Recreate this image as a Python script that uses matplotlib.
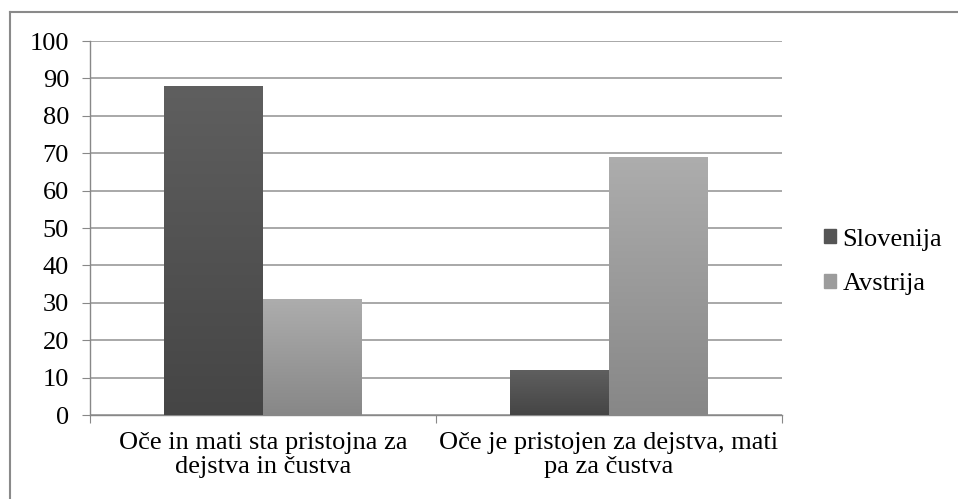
import numpy as np
import matplotlib
matplotlib.use("Agg")
import matplotlib.pyplot as plt
import matplotlib.patches as mpatches
from matplotlib.colors import LinearSegmentedColormap
from matplotlib.lines import Line2D

# ── DATA ──────────────────────────────────────────────────────────────────────
categories = ["Oče in mati sta pristojna za\ndejstva in čustva",
              "Oče je pristojen za dejstva, mati\npa za čustva"]
series_names = ["Slovenija", "Avstrija"]
slovenija = [88, 12]
avstrija = [31, 69]
y_ticks = list(range(0, 101, 10))

# ── STYLE ─────────────────────────────────────────────────────────────────────
plt.rcParams["font.family"] = ["Liberation Serif", "DejaVu Serif"]
FS = 19
GRID = "#9a9a9a"
DARK_TOP, DARK_BOT = "#5f5f5f", "#454545"
LIGHT_TOP, LIGHT_BOT = "#adadad", "#878787"

fig = plt.figure(figsize=(9.58, 4.99), dpi=100, facecolor="white")
ax = fig.add_axes([0.0939, 0.1683, 0.8163 - 0.0939, 0.9178 - 0.1683])

x = np.arange(len(categories))
w = 0.286

def gradient_bars(xpos, vals, top, bot, label):
    bars = ax.bar(xpos, vals, width=w, color=bot, edgecolor="none",
                  label=label, zorder=3)
    cmap = LinearSegmentedColormap.from_list("g", [bot, top])
    grad = np.linspace(0, 1, 256).reshape(-1, 1)
    for b in bars:
        x0, y0 = b.get_x(), b.get_y()
        im = ax.imshow(grad, extent=[x0, x0 + b.get_width(), y0, y0 + b.get_height()],
                       origin="lower", aspect="auto", cmap=cmap, zorder=4)
        im.set_clip_path(b)
    return bars

gradient_bars(x - w / 2, slovenija, DARK_TOP, DARK_BOT, series_names[0])
gradient_bars(x + w / 2, avstrija, LIGHT_TOP, LIGHT_BOT, series_names[1])

ax.set_xlim(-0.5, 1.5)
ax.set_ylim(0, 100)
ax.set_yticks(y_ticks)
ax.set_yticklabels([str(t) for t in y_ticks], fontsize=FS)
ax.yaxis.grid(True, color=GRID, lw=1.2, zorder=0)
ax.set_axisbelow(True)

# category ticks sit on the boundaries, labels in the middle
ax.set_xticks([-0.5, 0.5, 1.5])
ax.set_xticklabels([])
ax.set_xticks(x, minor=True)
ax.set_xticklabels(categories, minor=True, fontsize=FS, linespacing=1.15)
ax.tick_params(axis="x", which="minor", length=0, pad=12)
ax.tick_params(axis="x", which="major", length=6, color="#888888", direction="out")
ax.tick_params(axis="y", length=6, color="#888888", direction="out", pad=9)

for s in ["top", "right"]:
    ax.spines[s].set_visible(False)
for s in ["left", "bottom"]:
    ax.spines[s].set_color("#888888")
    ax.spines[s].set_linewidth(1.0)

handles = [mpatches.Patch(color="#555555"), mpatches.Patch(color="#9c9c9c")]
fig.legend(handles, series_names, loc="center left",
           bbox_to_anchor=(0.849, 0.475), frameon=False, fontsize=FS,
           handlelength=0.45, handleheight=0.45, handletextpad=0.25,
           labelspacing=0.85, borderaxespad=0)

# outer chart frame (top and left edges visible)
fig.add_artist(Line2D([0.0105, 0.999], [0.976, 0.976], color="#8a8a8a", lw=1.5,
                      transform=fig.transFigure))
fig.add_artist(Line2D([0.0105, 0.0105], [0.0, 0.976], color="#8a8a8a", lw=1.5,
                      transform=fig.transFigure))

plt.savefig("out.png", dpi=100, facecolor="white")
